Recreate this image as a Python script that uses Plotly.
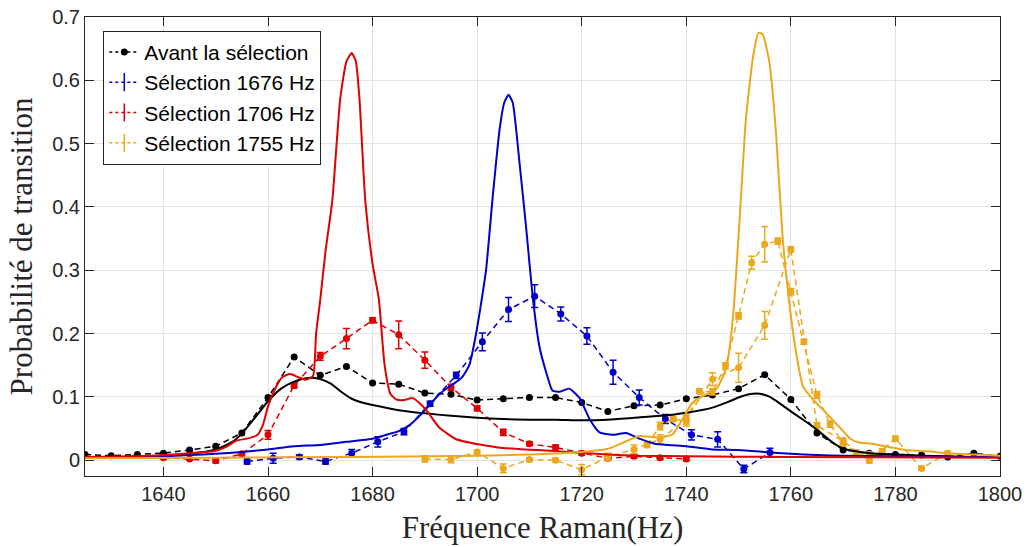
import plotly.graph_objects as go

# ---------------- data ----------------
# "Avant la sélection" (black, dashed, markers)
avant_x = [1625, 1630, 1635, 1640, 1645, 1650, 1655, 1660, 1665, 1670, 1675, 1680, 1685, 1690,
           1695, 1700, 1705, 1710, 1715, 1720, 1725, 1730, 1735, 1740, 1745, 1750, 1755, 1760,
           1765, 1770, 1775, 1780, 1785, 1790, 1795, 1800]
avant_y = [0.009, 0.007, 0.009, 0.011, 0.016, 0.022, 0.043, 0.099, 0.163, 0.134, 0.148, 0.122,
           0.120, 0.106, 0.104, 0.095, 0.097, 0.099, 0.099, 0.091, 0.077, 0.086, 0.087, 0.097,
           0.103, 0.113, 0.135, 0.096, 0.043, 0.016, 0.011, 0.009, 0.008, 0.005, 0.011, 0.006]

# "Sélection 1676 Hz" (blue, dashed, error bars)
sel1676_x = [1656, 1661, 1666, 1671, 1676, 1681, 1686, 1691, 1696, 1701, 1706, 1711, 1716, 1721,
             1726, 1731, 1736, 1741, 1746, 1751, 1756]
sel1676_y = [-0.002, 0.003, 0.005, -0.002, 0.011, 0.029, 0.045, 0.089, 0.134, 0.187, 0.238, 0.259,
             0.231, 0.196, 0.139, 0.099, 0.065, 0.040, 0.033, -0.014, 0.012]
sel1676_err = [0.004, 0.008, 0.003, 0.004, 0.006, 0.008, 0.005, 0.004, 0.005, 0.014, 0.019, 0.018,
               0.011, 0.013, 0.019, 0.012, 0.007, 0.008, 0.012, 0.006, 0.007]

# "Sélection 1706 Hz" (red, dashed, error bars)
sel1706_x = [1640, 1645, 1650, 1655, 1660, 1665, 1670, 1675, 1680, 1685, 1690, 1695, 1700, 1705,
             1710, 1715, 1720, 1725, 1730, 1735, 1740]
sel1706_y = [0.004, 0.002, -0.001, 0.010, 0.040, 0.118, 0.164, 0.192, 0.221, 0.198, 0.158, 0.115,
             0.082, 0.044, 0.026, 0.020, 0.011, 0.003, 0.006, 0.004, 0.002]
sel1706_err = [0.002, 0.002, 0.003, 0.003, 0.007, 0.004, 0.006, 0.016, 0.004, 0.022, 0.013, 0.005,
               0.004, 0.005, 0.003, 0.004, 0.003, 0.003, 0.003, 0.003, 0.003]

# "Sélection 1755 Hz" (orange, dashed, error bars) - coarse scan
sel1755_x = [1690, 1695, 1700, 1705, 1710, 1715, 1720, 1725, 1730, 1735, 1740, 1745, 1750, 1755,
             1760, 1765, 1770, 1775, 1780, 1785, 1790]
sel1755_y = [0.002, 0.001, 0.013, -0.013, 0.001, 0.000, -0.015, 0.005, 0.017, 0.033, 0.065, 0.128,
             0.146, 0.213, 0.333, 0.055, 0.030, -0.001, 0.034, -0.013, 0.011]
sel1755_err = [0.005, 0.005, 0.003, 0.007, 0.003, 0.003, 0.008, 0.006, 0.007, 0.007, 0.008, 0.010,
               0.023, 0.022, 0.004, 0.004, 0.005, 0.003, 0.004, 0.003, 0.003]

# "Sélection 1755 Hz" - fine scan
sel1755b_x = [1732.5, 1735, 1737.5, 1740, 1742.5, 1745, 1747.5, 1750, 1752.5, 1755, 1757.5, 1760,
              1762.5, 1765, 1767.5, 1770, 1772.5, 1775, 1777.5]
sel1755b_y = [0.024, 0.054, 0.065, 0.062, 0.109, 0.108, 0.149, 0.228, 0.312, 0.341, 0.346, 0.266,
              0.187, 0.103, 0.057, 0.027, 0.012, 0.009, 0.014]
sel1755b_err = [0.004, 0.006, 0.004, 0.008, 0.004, 0.005, 0.005, 0.005, 0.010, 0.028, 0.005, 0.005,
                0.004, 0.005, 0.005, 0.005, 0.004, 0.004, 0.004]

# theoretical curves (solid)
th_avant_x = [1625, 1630, 1635, 1640, 1645, 1650, 1653, 1655, 1657.5, 1660, 1662.5, 1665, 1667,
              1668.5, 1670, 1672, 1674, 1676, 1678, 1680, 1685, 1690, 1695, 1700, 1705, 1710, 1715,
              1720, 1725, 1730, 1735, 1740, 1745, 1748, 1750, 1752, 1754, 1756, 1758, 1760, 1762.5,
              1765, 1767.5, 1770, 1775, 1780, 1785, 1790, 1795, 1800]
th_avant_y = [0.005, 0.005, 0.006, 0.007, 0.010, 0.017, 0.028, 0.042, 0.067, 0.093, 0.113, 0.124,
              0.129, 0.130, 0.128, 0.121, 0.108, 0.097, 0.091, 0.087, 0.079, 0.074, 0.070, 0.067,
              0.065, 0.064, 0.064, 0.063, 0.064, 0.067, 0.070, 0.075, 0.083, 0.092, 0.099, 0.104,
              0.105, 0.100, 0.089, 0.077, 0.063, 0.048, 0.031, 0.018, 0.011, 0.009, 0.007, 0.006,
              0.005, 0.005]

th_1676_x = [1625, 1630, 1635, 1640, 1645, 1650, 1655, 1660, 1665, 1670, 1675, 1680, 1683, 1685,
             1687, 1689, 1691, 1693, 1695, 1697, 1698.5, 1699.8, 1700.8, 1701.7, 1703, 1704.3,
             1705.2, 1706, 1706.8, 1708.1, 1709.4, 1710.6, 1711.9, 1713.2, 1714.4, 1715.8, 1717.6,
             1719.6, 1721.5, 1723.4, 1725.9, 1728.5, 1731, 1734, 1740, 1745, 1750, 1755, 1760,
             1765, 1770, 1780, 1790, 1800]
th_1676_y = [0.004, 0.004, 0.005, 0.006, 0.008, 0.010, 0.013, 0.017, 0.022, 0.024, 0.029, 0.034,
             0.041, 0.046, 0.055, 0.070, 0.088, 0.106, 0.118, 0.130, 0.150, 0.200, 0.250, 0.300,
             0.418, 0.523, 0.565, 0.577, 0.565, 0.470, 0.365, 0.260, 0.180, 0.139, 0.110, 0.108,
             0.113, 0.098, 0.065, 0.044, 0.040, 0.043, 0.034, 0.026, 0.022, 0.017, 0.016, 0.013,
             0.010, 0.008, 0.007, 0.006, 0.005, 0.005]

th_1706_x = [1625, 1635, 1640, 1645, 1650, 1652, 1654, 1656, 1658, 1659, 1660, 1661.2, 1662.7,
             1664.2, 1665.8, 1667.2, 1668.6, 1669.2, 1670, 1671, 1672.3, 1673.8, 1675, 1676,
             1676.8, 1677.5, 1678.6, 1680, 1681.2, 1682.3, 1683.4, 1684.5, 1686, 1687.7, 1689,
             1690.4, 1692.7, 1696, 1700.2, 1704, 1709, 1714, 1719, 1725, 1731, 1740, 1760, 1800]
th_1706_y = [0.005, 0.006, 0.008, 0.011, 0.015, 0.021, 0.031, 0.034, 0.040, 0.055, 0.085, 0.110,
             0.131, 0.136, 0.131, 0.127, 0.133, 0.200, 0.254, 0.330, 0.410, 0.570, 0.630, 0.643,
             0.630, 0.570, 0.410, 0.310, 0.254, 0.150, 0.105, 0.096, 0.095, 0.098, 0.090, 0.078,
             0.052, 0.033, 0.025, 0.020, 0.017, 0.015, 0.012, 0.009, 0.007, 0.006, 0.005, 0.004]

th_1755_x = [1625, 1650, 1675, 1700, 1710, 1720, 1725, 1728, 1731, 1733, 1735, 1737.4, 1739.3,
             1741.2, 1743.8, 1745.7, 1747.6, 1748.9, 1750.2, 1751.4, 1752.8, 1753.8, 1754.6,
             1755.9, 1757.2, 1758.4, 1759.7, 1761, 1762.3, 1764.2, 1766.7, 1769.3, 1771.5, 1773,
             1775.5, 1778, 1782, 1786, 1790, 1795, 1800]
th_1755_y = [0.003, 0.004, 0.005, 0.007, 0.009, 0.013, 0.018, 0.028, 0.038, 0.037, 0.036, 0.041,
             0.065, 0.091, 0.104, 0.112, 0.144, 0.223, 0.380, 0.539, 0.639, 0.675, 0.673, 0.628,
             0.512, 0.354, 0.249, 0.170, 0.117, 0.096, 0.075, 0.052, 0.033, 0.028, 0.026, 0.022,
             0.016, 0.014, 0.011, 0.009, 0.007]

x_ticks = [1640, 1660, 1680, 1700, 1720, 1740, 1760, 1780, 1800]
y_ticks = [0, 0.1, 0.2, 0.3, 0.4, 0.5, 0.6, 0.7]
legend_labels = ["Avant la sélection", "Sélection 1676 Hz", "Sélection 1706 Hz", "Sélection 1755 Hz"]

# ---------------- style ----------------
BLACK = "#000000"
BLUE = "#0000C8"
RED = "#E00000"
ORANGE = "#EBA81C"
DASH = "6px,4px"

fig = go.Figure()


def exp_trace(x, y, err, color, with_err=True):
    kw = dict(x=x, y=y, mode="lines+markers",
              line=dict(color=color, width=1.5, dash=DASH),
              marker=dict(color=color, size=7, symbol="circle"),
              showlegend=False, hoverinfo="x+y")
    if with_err:
        kw["error_y"] = dict(type="data", array=err, visible=True, color=color,
                             thickness=1.5, width=3.5)
    return go.Scatter(**kw)


# experimental data
fig.add_trace(exp_trace(avant_x, avant_y, None, BLACK, with_err=False))
fig.add_trace(exp_trace(sel1676_x, sel1676_y, sel1676_err, BLUE))
fig.add_trace(exp_trace(sel1706_x, sel1706_y, sel1706_err, RED))
fig.add_trace(exp_trace(sel1755_x, sel1755_y, sel1755_err, ORANGE))
fig.add_trace(exp_trace(sel1755b_x, sel1755b_y, sel1755b_err, ORANGE))

# theoretical curves
for tx, ty, c in [(th_avant_x, th_avant_y, BLACK), (th_1676_x, th_1676_y, BLUE),
                  (th_1706_x, th_1706_y, RED), (th_1755_x, th_1755_y, ORANGE)]:
    fig.add_trace(go.Scatter(x=tx, y=ty, mode="lines",
                             line=dict(color=c, width=2, shape="spline", smoothing=0.5),
                             showlegend=False, hoverinfo="x+y"))

# legend entries
fig.add_trace(go.Scatter(x=[None], y=[None], mode="lines+markers", name=legend_labels[0],
                         line=dict(color=BLACK, width=1.5, dash="3px,3px"),
                         marker=dict(color=BLACK, size=7, symbol="circle"),
                         legendgroup="a"))
for lab, c, g in [(legend_labels[1], BLUE, "b"), (legend_labels[2], RED, "c"),
                  (legend_labels[3], ORANGE, "d")]:
    fig.add_trace(go.Scatter(x=[None], y=[None], mode="lines+markers", name=lab,
                             line=dict(color=c, width=1.5, dash="3px,3px"),
                             marker=dict(symbol="line-ns-open", size=13,
                                         line=dict(color=c, width=1.5)),
                             legendgroup=g))

AX = "#262626"
fig.update_layout(
    width=1030, height=547,
    margin=dict(l=85, r=30, t=17, b=71, autoexpand=False),
    paper_bgcolor="white", plot_bgcolor="white",
    font=dict(family="Liberation Sans, Arial, sans-serif", size=20, color=AX),
    showlegend=True,
    legend=dict(x=0.02, y=0.97, xanchor="left", yanchor="top",
                bgcolor="white", bordercolor=AX, borderwidth=1,
                font=dict(family="Liberation Sans, Arial, sans-serif", size=21, color="#000"),
                tracegroupgap=0, itemwidth=30, traceorder="normal"),
    xaxis=dict(range=[1625, 1800], tickvals=x_ticks, ticktext=[str(v) for v in x_ticks],
               showgrid=True, gridcolor="#e3e3e3", gridwidth=1, zeroline=False,
               showline=True, linecolor=AX, linewidth=1, mirror="ticks",
               ticks="inside", ticklen=9, tickcolor=AX, tickwidth=1,
               tickfont=dict(size=20, color=AX),
               title=dict(text="Fréquence Raman(Hz)", standoff=12,
                          font=dict(family="Liberation Serif, Times New Roman, serif", size=31,
                                    color=AX))),
    yaxis=dict(range=[-0.025, 0.7], tickvals=y_ticks, ticktext=["0", "0.1", "0.2", "0.3", "0.4",
                                                               "0.5", "0.6", "0.7"],
               showgrid=True, gridcolor="#e3e3e3", gridwidth=1, zeroline=False,
               showline=True, linecolor=AX, linewidth=1, mirror="ticks",
               ticks="inside", ticklen=9, tickcolor=AX, tickwidth=1,
               tickfont=dict(size=20, color=AX),
               title=dict(text="Probabilité de transition", standoff=10,
                          font=dict(family="Liberation Serif, Times New Roman, serif", size=31,
                                    color=AX))),
)

fig.write_html("out.html", config={"displayModeBar": False},
               post_script="document.body.style.margin='0px';document.body.style.overflow='hidden';")
